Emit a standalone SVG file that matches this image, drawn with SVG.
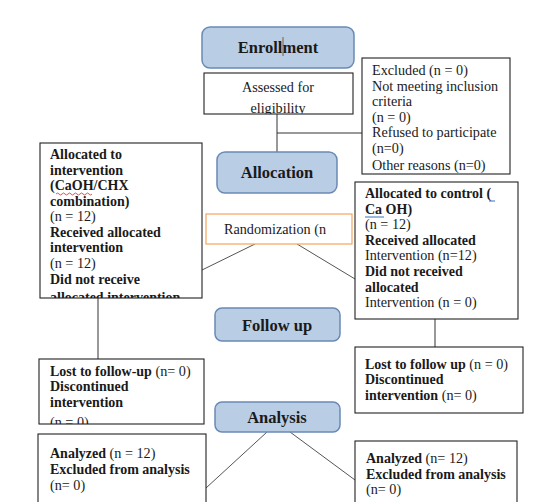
<svg xmlns="http://www.w3.org/2000/svg" width="536" height="502" viewBox="0 0 536 502">
<style>
text{font-family:"Liberation Serif","Times New Roman",serif;font-size:14.2px;fill:#1a1a1a}
.b{font-weight:bold;font-size:14px}
.hd{font-weight:bold;font-size:16.5px;text-anchor:middle}
.box{fill:#fff;stroke:#222;stroke-width:1.1}
.rb{fill:#b9cde5;stroke:#6a8ab5;stroke-width:1.5}
.ln{stroke:#333;stroke-width:1;fill:none}
.dl{stroke:#555;stroke-width:1;fill:none}
</style>
<defs>
<clipPath id="cA"><rect x="204" y="73" width="149" height="41"/></clipPath>
<clipPath id="cE"><rect x="362" y="58" width="148" height="116"/></clipPath>
<clipPath id="cI"><rect x="40" y="143" width="162" height="155"/></clipPath>
<clipPath id="cL"><rect x="39" y="359" width="165" height="65"/></clipPath>
</defs>
<rect width="536" height="502" fill="#fff"/>
<g id="connectors">
<path class="ln" d="M277 114V153M277 133H362"/>
<path class="dl" d="M255 244L202 270M297 244L355 279"/>
<path class="ln" d="M98 298V359M435 319V347"/>
<path class="dl" d="M267 432L206 488M290 432L355 480"/>
</g>
<g id="enrollment">
<rect class="rb" x="202" y="27" width="152" height="41" rx="8"/>
<text class="hd" x="278" y="53">Enrollment</text>
<line x1="283" y1="37" x2="283" y2="56" stroke="#8b5a2b" stroke-width="1"/>
</g>
<g id="assessed">
<rect class="box" x="204" y="73" width="149" height="41"/>
<g clip-path="url(#cA)">
<text x="278" y="92" text-anchor="middle">Assessed for</text>
<text x="278" y="113" text-anchor="middle">eligibility</text>
</g>
</g>
<g id="excluded">
<rect class="box" x="362" y="58" width="148" height="116"/>
<g clip-path="url(#cE)">
<text x="372" y="75">Excluded (n = 0)</text>
<text x="372" y="90.5">Not meeting inclusion</text>
<text x="372" y="106">criteria</text>
<text x="372" y="121.5">(n = 0)</text>
<text x="372" y="137">Refused to participate</text>
<text x="372" y="152.5">(n=0)</text>
<text x="372" y="170">Other reasons (n=0)</text>
</g>
</g>
<g id="allocation">
<rect class="rb" x="217" y="152" width="120" height="41" rx="8"/>
<text class="hd" x="277" y="178">Allocation</text>
</g>
<g id="intervention">
<rect class="box" x="40" y="143" width="162" height="155"/>
<g clip-path="url(#cI)">
<text class="b" x="50" y="159">Allocated to</text>
<text class="b" x="50" y="175">intervention</text>
<text class="b" x="50" y="190">(CaOH/CHX</text>
<path d="M56 194q1.5-2 3 0t3 0t3 0t3 0t3 0t3 0t3 0t3 0t3 0t3 0t3 0t3 0" fill="none" stroke="#e02020" stroke-width="0.8"/>
<text class="b" x="50" y="206">combination)</text>
<text x="50" y="221">(n = 12)</text>
<text class="b" x="50" y="237">Received allocated</text>
<text class="b" x="50" y="252">intervention</text>
<text x="50" y="268">(n = 12)</text>
<text class="b" x="50" y="284">Did not receive</text>
<text class="b" x="50" y="302">allocated intervention</text>
</g>
</g>
<g id="randomization">
<rect x="206" y="214" width="146" height="30" fill="#fff" stroke="#f4a460" stroke-width="1.2"/>
<text x="224" y="234">Randomization (n</text>
</g>
<g id="control">
<rect class="box" x="355" y="182" width="163" height="137"/>
<text class="b" x="365" y="198">Allocated to control (</text>
<text class="b" x="365" y="214">Ca OH)</text>
<line x1="489" y1="201" x2="495" y2="201" stroke="#2060c0" stroke-width="0.9"/>
<line x1="365" y1="217" x2="384" y2="217" stroke="#2060c0" stroke-width="0.9"/>
<text x="365" y="229">(n = 12)</text>
<text class="b" x="365" y="245">Received allocated</text>
<text x="365" y="260">Intervention (n=12)</text>
<text class="b" x="365" y="276">Did not received</text>
<text class="b" x="365" y="292">allocated</text>
<text x="365" y="307">Intervention (n = 0)</text>
</g>
<g id="followup">
<rect class="rb" x="215" y="308" width="125" height="33" rx="7"/>
<text class="hd" x="277" y="331">Follow up</text>
</g>
<g id="lost-left">
<rect class="box" x="39" y="359" width="165" height="65"/>
<g clip-path="url(#cL)">
<text x="50" y="376"><tspan class="b">Lost to follow-up</tspan> (n= 0)</text>
<text class="b" x="50" y="391">Discontinued</text>
<text class="b" x="50" y="407">intervention</text>
<text x="50" y="427">(n = 0)</text>
</g>
</g>
<g id="lost-right">
<rect class="box" x="355" y="347" width="168" height="66"/>
<text x="365" y="369"><tspan class="b">Lost to follow up</tspan> (n = 0)</text>
<text class="b" x="365" y="384">Discontinued</text>
<text x="365" y="400"><tspan class="b">intervention</tspan> (n= 0)</text>
</g>
<g id="analysis">
<rect class="rb" x="215" y="402" width="125" height="30" rx="7"/>
<text class="hd" x="277" y="423">Analysis</text>
</g>
<g id="analyzed-left">
<rect class="box" x="38" y="434" width="168" height="80"/>
<text x="50" y="458"><tspan class="b">Analyzed</tspan> (n = 12)</text>
<text class="b" x="50" y="474">Excluded from analysis</text>
<text x="50" y="490">(n= 0)</text>
</g>
<g id="analyzed-right">
<rect class="box" x="355" y="441" width="162" height="80"/>
<text x="366" y="463"><tspan class="b">Analyzed</tspan> (n= 12)</text>
<text class="b" x="366" y="479">Excluded from analysis</text>
<text x="366" y="494">(n= 0)</text>
</g>
</svg>
